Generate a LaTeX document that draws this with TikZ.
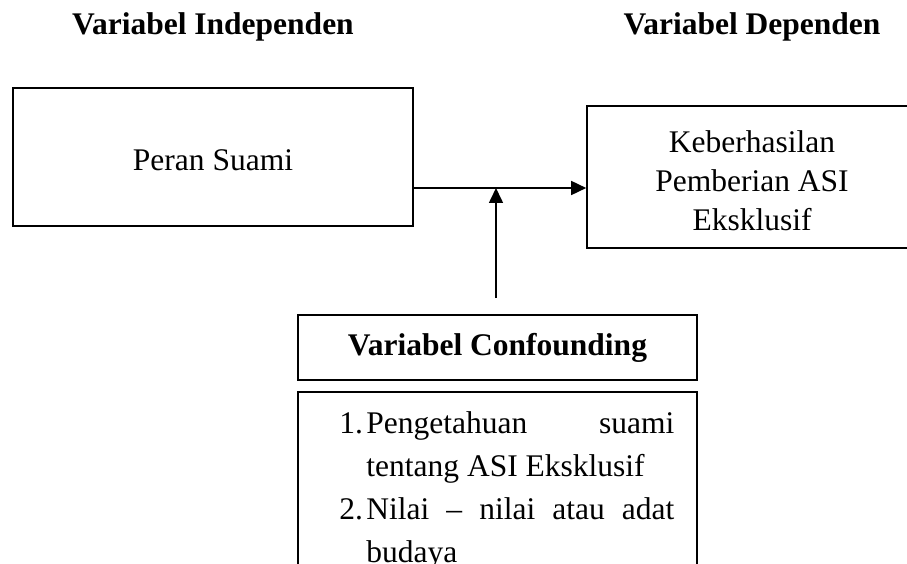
\documentclass[tikz,border=0pt]{standalone}
\usepackage{fontspec}
\setmainfont{Liberation Serif}
\usetikzlibrary{arrows.meta}
\tolerance=10000
\hyphenpenalty=10000
\tikzset{
    kotak/.style={draw, line width=1.6pt, inner sep=0pt},
    judul/.style={font=\fontsize{31.5}{39}\selectfont\bfseries},
    panah/.style={line width=1.6pt, -{Triangle[length=15pt,width=14pt]}}
}

\begin{document}
\begin{tikzpicture}[x=1pt, y=-1pt, font=\fontsize{31.5}{39}\selectfont]
                    \clip (0,0) rectangle (907,564);
                    \node[judul, anchor=base] (indep) at (213,35) {Variabel Independen};
                    \node[judul, anchor=base] (dep) at (752,35) {Variabel Dependen};
                    \node[kotak, minimum width=400, minimum height=138, text height=28] (suami) at (213,157) {Peran Suami};
                    \node[kotak, minimum width=330, minimum height=142, align=center] (asi) at (752,177) {\rule{0pt}{30pt}Keberhasilan\\Pemberian ASI\\Eksklusif};
                    \coordinate (temu) at (496,188);
                    \coordinate (pangkal) at (496,298);
                    \draw[panah] (suami.east |- temu) -- (asi.west |- temu);
                    \draw[panah] (pangkal) -- (temu);
                    \node[kotak, judul, minimum width=399, minimum height=65] (konf) at (497.5,347.5) {Variabel Confounding};
                    \node[kotak, minimum width=399, minimum height=200, anchor=north] (faktor) at (497.5,391) {};
                    \node[anchor=north west, inner sep=0pt, font=\fontsize{31.5}{43}\selectfont] (daftar) at ([xshift=42pt,yshift=-12pt]faktor.north west)
                        {\begin{tabular}{@{}l@{}p{308pt}@{}}
                            \makebox[27pt][l]{1.} & Pengetahuan suami tentang ASI Eksklusif\\
                            \makebox[27pt][l]{2.} & Nilai – nilai atau adat budaya
                        \end{tabular}};
                \end{tikzpicture}
\end{document}
